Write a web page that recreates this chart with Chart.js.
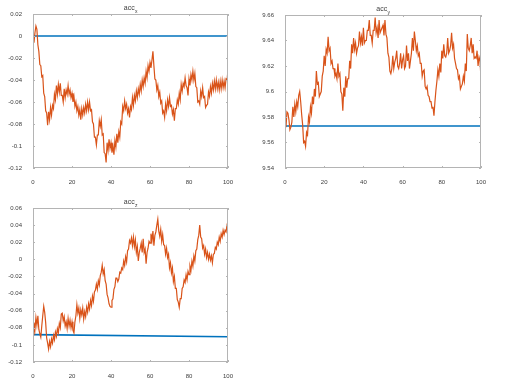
<!DOCTYPE html>
<html>
<head>
<meta charset="utf-8">
<script src="https://cdn.jsdelivr.net/npm/chart.js@4.4.1/dist/chart.umd.min.js"></script>
<style>
  html, body { margin: 0; padding: 0; background: #fff; }
  body { width: 505px; height: 392px; position: relative; overflow: hidden; }
  .panel { position: absolute; }
</style>
</head>
<body>
<div class="panel" style="left:0;top:0"><canvas id="accX" width="245" height="185"></canvas></div>
<div class="panel" style="left:252px;top:0"><canvas id="accY" width="253" height="185"></canvas></div>
<div class="panel" style="left:0;top:195px"><canvas id="accZ" width="245" height="185"></canvas></div>
<script>
// ── data (time 0..100, samples evenly spaced) ─────────────────────────────
const T_END = 100;
const X_TICKS = [0, 20, 40, 60, 80, 100];

const ACCX_TICKS = [-0.12, -0.1, -0.08, -0.06, -0.04, -0.02, 0, 0.02];
const ACCY_TICKS = [9.54, 9.56, 9.58, 9.6, 9.62, 9.64, 9.66];
const ACCZ_TICKS = [-0.12, -0.1, -0.08, -0.06, -0.04, -0.02, 0, 0.02, 0.04, 0.06];

// reference (blue) level
const ACCX_REF = [0, 0];
const ACCY_REF = [9.573, 9.573];
const ACCZ_REF = [-0.088, -0.0905];

// measured (orange)
const ACCX_MEAS = [
  0.000,-0.006,0.003,0.009,0.006,-0.008,-0.014,-0.026,-0.027,-0.037,
  -0.036,-0.052,-0.055,-0.068,-0.070,-0.081,-0.069,-0.076,-0.065,-0.072,
  -0.063,-0.066,-0.053,-0.058,-0.045,-0.053,-0.044,-0.051,-0.043,-0.054,
  -0.054,-0.060,-0.048,-0.056,-0.049,-0.053,-0.045,-0.053,-0.049,-0.056,
  -0.052,-0.060,-0.055,-0.064,-0.060,-0.068,-0.064,-0.072,-0.067,-0.076,
  -0.066,-0.072,-0.065,-0.070,-0.062,-0.068,-0.060,-0.067,-0.060,-0.068,
  -0.067,-0.078,-0.080,-0.092,-0.092,-0.099,-0.090,-0.090,-0.077,-0.082,
  -0.076,-0.090,-0.089,-0.106,-0.107,-0.115,-0.097,-0.104,-0.094,-0.102,
  -0.097,-0.106,-0.100,-0.108,-0.095,-0.101,-0.089,-0.097,-0.087,-0.092,
  -0.078,-0.080,-0.064,-0.068,-0.059,-0.066,-0.062,-0.070,-0.066,-0.074,
  -0.064,-0.067,-0.056,-0.063,-0.054,-0.059,-0.050,-0.056,-0.048,-0.053,
  -0.044,-0.050,-0.040,-0.046,-0.038,-0.043,-0.032,-0.038,-0.027,-0.032,
  -0.024,-0.029,-0.022,-0.014,-0.027,-0.039,-0.040,-0.049,-0.045,-0.055,
  -0.051,-0.061,-0.059,-0.070,-0.068,-0.074,-0.062,-0.068,-0.058,-0.064,
  -0.056,-0.064,-0.063,-0.071,-0.067,-0.077,-0.066,-0.066,-0.058,-0.062,
  -0.052,-0.058,-0.044,-0.050,-0.043,-0.046,-0.038,-0.045,-0.047,-0.054,
  -0.039,-0.045,-0.035,-0.040,-0.032,-0.040,-0.034,-0.046,-0.047,-0.060,
  -0.059,-0.062,-0.050,-0.055,-0.047,-0.056,-0.055,-0.065,-0.063,-0.062,
  -0.051,-0.055,-0.046,-0.052,-0.043,-0.049,-0.041,-0.048,-0.040,-0.048,
  -0.042,-0.049,-0.041,-0.048,-0.040,-0.047,-0.041,-0.047,-0.039,-0.040,
  -0.031
];

const ACCY_MEAS = [
  9.577,9.572,9.584,9.583,9.578,9.570,9.572,9.576,9.588,9.580,
  9.590,9.584,9.592,9.588,9.597,9.600,9.592,9.582,9.574,9.560,
  9.561,9.557,9.568,9.566,9.580,9.576,9.588,9.583,9.596,9.590,
  9.602,9.596,9.616,9.606,9.607,9.596,9.598,9.600,9.612,9.616,
  9.628,9.620,9.633,9.630,9.643,9.632,9.634,9.622,9.624,9.618,
  9.618,9.612,9.614,9.610,9.622,9.612,9.614,9.600,9.598,9.585,
  9.603,9.596,9.612,9.603,9.610,9.610,9.624,9.618,9.637,9.630,
  9.642,9.633,9.638,9.630,9.634,9.636,9.647,9.638,9.643,9.636,
  9.650,9.638,9.640,9.640,9.648,9.648,9.656,9.644,9.644,9.638,
  9.648,9.648,9.658,9.646,9.650,9.642,9.656,9.646,9.648,9.650,
  9.652,9.644,9.656,9.645,9.642,9.630,9.627,9.616,9.614,9.618,
  9.628,9.618,9.623,9.626,9.632,9.620,9.618,9.622,9.630,9.618,
  9.625,9.628,9.618,9.620,9.636,9.624,9.630,9.618,9.624,9.630,
  9.642,9.632,9.647,9.640,9.632,9.636,9.628,9.630,9.622,9.622,
  9.612,9.616,9.617,9.604,9.602,9.604,9.597,9.596,9.592,9.592,
  9.587,9.588,9.581,9.592,9.601,9.608,9.617,9.612,9.622,9.615,
  9.632,9.626,9.637,9.628,9.627,9.630,9.642,9.630,9.632,9.636,
  9.646,9.634,9.637,9.626,9.622,9.618,9.617,9.610,9.612,9.602,
  9.604,9.606,9.612,9.608,9.622,9.616,9.645,9.634,9.632,9.636,
  9.642,9.630,9.637,9.626,9.627,9.626,9.632,9.620,9.627,9.624,
  9.610
];

const ACCZ_MEAS = [
  -0.088,-0.074,-0.082,-0.068,-0.077,-0.066,-0.082,-0.087,-0.091,-0.078,
  -0.066,-0.055,-0.062,-0.074,-0.092,-0.098,-0.105,-0.096,-0.102,-0.093,
  -0.098,-0.089,-0.094,-0.085,-0.090,-0.081,-0.086,-0.075,-0.080,-0.064,
  -0.063,-0.072,-0.067,-0.078,-0.073,-0.081,-0.069,-0.078,-0.071,-0.080,
  -0.073,-0.083,-0.086,-0.073,-0.066,-0.053,-0.063,-0.057,-0.069,-0.059,
  -0.065,-0.057,-0.070,-0.061,-0.067,-0.056,-0.062,-0.052,-0.058,-0.048,
  -0.054,-0.043,-0.049,-0.038,-0.036,-0.029,-0.035,-0.025,-0.030,-0.019,
  -0.015,-0.007,-0.017,-0.012,-0.025,-0.029,-0.041,-0.045,-0.052,-0.055,
  -0.056,-0.048,-0.046,-0.035,-0.032,-0.022,-0.022,-0.026,-0.023,-0.015,
  -0.016,-0.010,-0.012,-0.002,-0.007,0.003,-0.003,0.010,0.012,0.022,
  0.019,0.025,0.016,0.026,0.015,0.023,0.008,0.015,-0.002,0.008,
  0.013,0.019,0.008,0.024,0.008,0.012,-0.005,0.008,0.013,0.021,
  0.019,0.030,0.022,0.033,0.016,0.028,0.032,0.040,0.047,0.033,
  0.027,0.035,0.021,0.029,0.017,0.016,0.006,0.013,0.002,0.006,
  -0.010,-0.004,-0.016,-0.010,-0.026,-0.020,-0.034,-0.034,-0.047,-0.050,
  -0.056,-0.046,-0.046,-0.034,-0.032,-0.024,-0.027,-0.018,-0.024,-0.014,
  -0.018,-0.008,-0.013,-0.002,-0.008,0.004,-0.002,0.010,0.012,0.023,
  0.028,0.040,0.026,0.024,0.013,0.016,0.006,0.012,0.002,0.008,
  0.000,0.006,-0.001,0.004,-0.004,0.006,0.007,0.014,0.012,0.020,
  0.017,0.026,0.021,0.030,0.026,0.034,0.029,0.034,0.032,0.040,
  0.045
];

// ── styling ───────────────────────────────────────────────────────────────
const BLUE   = '#0072BD';
const ORANGE = '#D95319';
const FRAME  = '#b4b4b4';
const TEXT   = '#3c3c3c';
const FONT   = '"Liberation Sans", Arial, sans-serif';

function toPoints(vals) {
  const step = T_END / (vals.length - 1);
  return vals.map((v, i) => ({ x: i * step, y: v }));
}

function fmt(v) {
  return String(Number(v.toFixed(2)));
}

// MATLAB-ish box, inward ticks and subscripted title
const matlabAxes = {
  id: 'matlabAxes',
  afterDatasetsDraw(chart) {
    const { ctx, chartArea: a, scales } = chart;
    const sub = chart.options.plugins.matlabAxes.sub;
    ctx.save();
    ctx.strokeStyle = FRAME;
    ctx.lineWidth = 1;
    ctx.strokeRect(Math.round(a.left) + 0.5, Math.round(a.top) + 0.5,
                   Math.round(a.width) - 1, Math.round(a.height) - 1);
    ctx.beginPath();
    scales.x.ticks.forEach(t => {
      const px = Math.round(scales.x.getPixelForValue(t.value)) + 0.5;
      ctx.moveTo(px, a.top); ctx.lineTo(px, a.top + 2);
      ctx.moveTo(px, a.bottom); ctx.lineTo(px, a.bottom - 2);
    });
    scales.y.ticks.forEach(t => {
      const py = Math.round(scales.y.getPixelForValue(t.value)) + 0.5;
      ctx.moveTo(a.left, py); ctx.lineTo(a.left + 2, py);
      ctx.moveTo(a.right, py); ctx.lineTo(a.right - 2, py);
    });
    ctx.stroke();

    // title: acc_<sub>
    ctx.fillStyle = TEXT;
    ctx.textBaseline = 'alphabetic';
    ctx.font = '7px ' + FONT;
    const wMain = ctx.measureText('acc').width;
    ctx.font = '5px ' + FONT;
    const wSub = ctx.measureText(sub).width;
    const x0 = (a.left + a.right) / 2 - (wMain + wSub) / 2;
    ctx.font = '7px ' + FONT;
    ctx.fillText('acc', x0, a.top - 4);
    ctx.font = '5px ' + FONT;
    ctx.fillText(sub, x0 + wMain + 0.3, a.top - 1.5);
    ctx.restore();
  }
};

function makeChart(id, meas, ref, yTicks, sub, pad) {
  const canvas = document.getElementById(id);
  return new Chart(canvas, {
    type: 'line',
    data: {
      datasets: [
        { data: toPoints(meas), borderColor: ORANGE, borderWidth: 1.2 },
        { data: toPoints(ref),  borderColor: BLUE,   borderWidth: 1.6 },
      ],
    },
    options: {
      responsive: false,
      animation: false,
      parsing: false,
      elements: { point: { radius: 0 }, line: { tension: 0 } },
      layout: { padding: pad },
      plugins: {
        legend: { display: false },
        tooltip: { enabled: false },
        matlabAxes: { sub },
      },
      scales: {
        x: {
          type: 'linear',
          min: 0, max: T_END,
          afterBuildTicks: s => { s.ticks = X_TICKS.map(v => ({ value: v })); },
          afterFit: s => { s.height = 17; },
          grid: { display: false },
          border: { display: false },
          ticks: { color: TEXT, font: { family: FONT, size: 6 }, padding: 3, maxRotation: 0,
                   callback: v => String(v) },
        },
        y: {
          min: yTicks[0], max: yTicks[yTicks.length - 1],
          afterBuildTicks: s => { s.ticks = yTicks.map(v => ({ value: v })); },
          afterFit: s => { s.width = 33; },
          grid: { display: false },
          border: { display: false },
          ticks: { color: TEXT, font: { family: FONT, size: 6 }, padding: 3,
                   callback: v => fmt(v) },
        },
      },
    },
    plugins: [matlabAxes],
  });
}

makeChart('accX', ACCX_MEAS, ACCX_REF, ACCX_TICKS, 'x', { left: 0, right: 17, top: 14, bottom: 0 });
makeChart('accY', ACCY_MEAS, ACCY_REF, ACCY_TICKS, 'y', { left: 0, right: 24, top: 15, bottom: 0 });
makeChart('accZ', ACCZ_MEAS, ACCZ_REF, ACCZ_TICKS, 'z', { left: 0, right: 17, top: 13, bottom: 1 });
</script>
</body>
</html>
